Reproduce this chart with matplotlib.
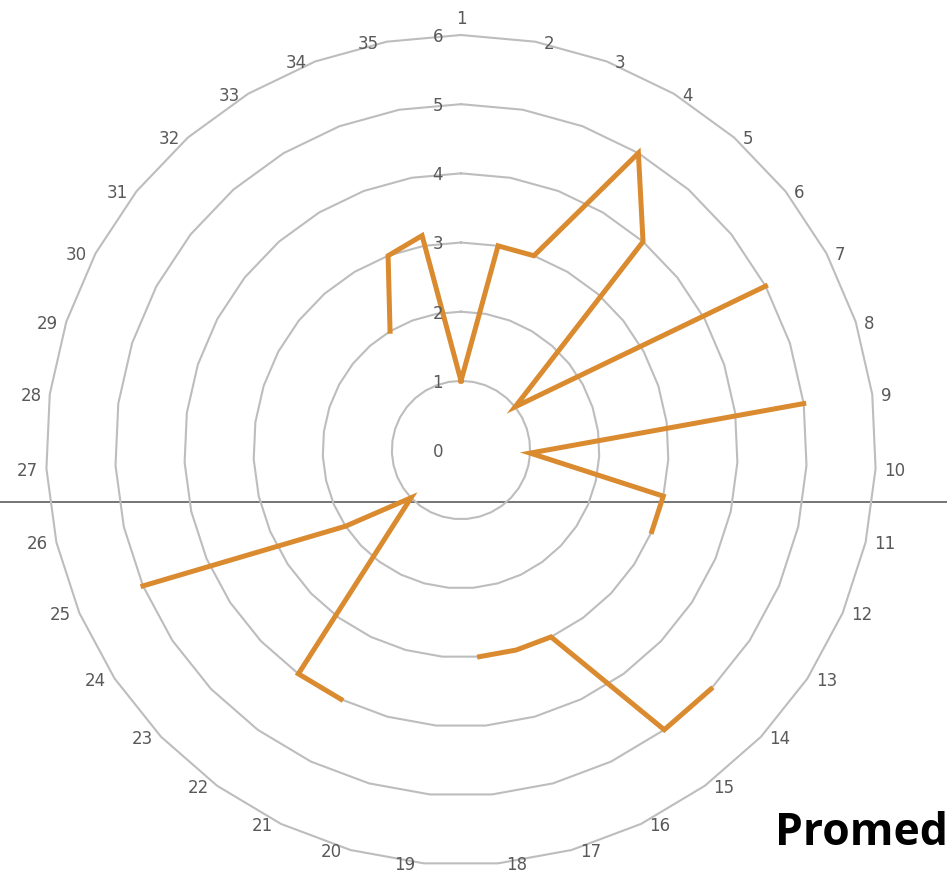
import numpy as np
import matplotlib
matplotlib.use("Agg")
import matplotlib.pyplot as plt

# ---- data ----
categories = [str(i) for i in range(1, 36)]
values = [1, 3, 3, 5, 4, 1, 5, np.nan, 5, 1,
          3, 3, np.nan, 5, 5, 3, 3, 3, np.nan, np.nan,
          4, 4, 1, 2, 5, np.nan, np.nan, np.nan, np.nan, np.nan,
          np.nan, np.nan, 2, 3, 3.15]
radial_ticks = [0, 1, 2, 3, 4, 5, 6]
title_text = "Promed"

# ---- styles ----
W, H, DPI = 947, 880, 100
cx, cy, R = 461, 450, 415  # pixel centre and outer radius
grid_color = "#BDBDBD"
line_color = "#DA8A2F"
text_color = "#595959"

fig = plt.figure(figsize=(W / DPI, H / DPI), dpi=DPI)
fig.patch.set_facecolor("white")

# horizontal rule across the figure
fig.add_artist(plt.Line2D([0, 1], [(H - 502) / H] * 2, transform=fig.transFigure,
                          color="#6A6A6A", lw=1.3, zorder=0))

ax = fig.add_axes([(cx - R) / W, (H - cy - R) / H, 2 * R / W, 2 * R / H],
                  projection="polar")
ax.set_facecolor("none")
ax.set_theta_zero_location("N")
ax.set_theta_direction(-1)
ax.set_ylim(0, max(radial_ticks))
ax.grid(False)
ax.set_xticks([])
ax.set_yticks([])
ax.spines["polar"].set_visible(False)

n = len(categories)
theta = np.linspace(0, 2 * np.pi, n, endpoint=False)
theta_closed = np.append(theta, 2 * np.pi)

# polygon gridlines
for r in radial_ticks[1:]:
    ax.plot(theta_closed, [r] * (n + 1), color=grid_color, lw=1.5,
            clip_on=False, zorder=1)

# data line (gaps where values are missing)
vals_closed = np.append(values, values[0])
ax.plot(theta_closed, vals_closed, color=line_color, lw=3.6,
        solid_joinstyle="miter", clip_on=False, zorder=3)

# category labels
rmax = max(radial_ticks)
for t, lab in zip(theta, categories):
    s = np.sin(t)
    if abs(s) < 1e-6:
        ax.annotate(lab, xy=(t, rmax), xytext=(0, 5), textcoords="offset points",
                    ha="center", va="bottom", fontsize=12, color=text_color,
                    annotation_clip=False)
    else:
        ha = "left" if s > 0 else "right"
        dx = 6 if s > 0 else -6
        ax.annotate(lab, xy=(t, rmax), xytext=(dx, 0), textcoords="offset points",
                    ha=ha, va="center_baseline", fontsize=12, color=text_color,
                    annotation_clip=False)

# radial labels
for v in radial_ticks:
    ax.annotate(str(v), xy=(0, v), xytext=(-13, 0), textcoords="offset points",
                ha="right", va="center_baseline", fontsize=12, color=text_color,
                annotation_clip=False, zorder=4)

fig.text(775 / W, (H - 845) / H, title_text, fontsize=32, fontweight="bold",
         family=["Open Sans", "DejaVu Sans"], color="black",
         ha="left", va="baseline")

fig.savefig("out.png", dpi=DPI)
